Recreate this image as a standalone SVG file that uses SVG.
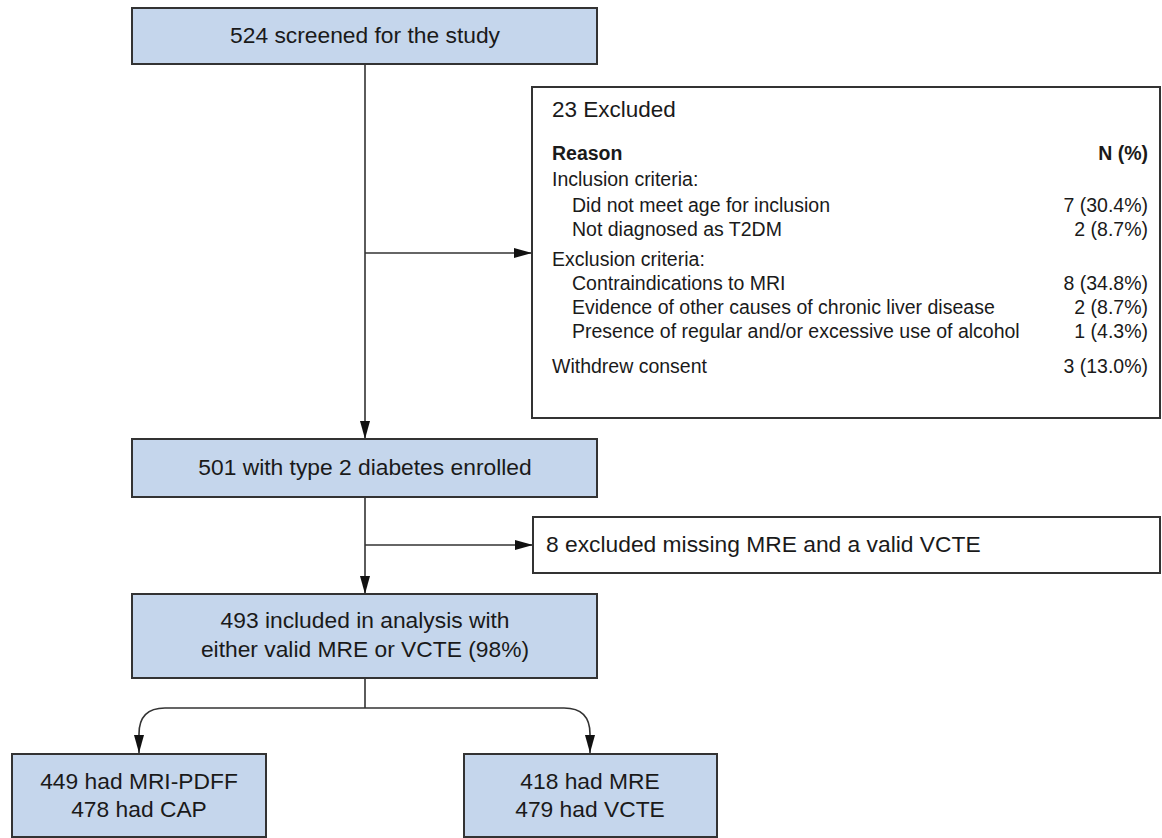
<svg xmlns="http://www.w3.org/2000/svg" width="1162" height="838" viewBox="0 0 1162 838">
<style>
.box{fill:#c5d6ec;stroke:#333;stroke-width:2}
.wbox{fill:#fff;stroke:#333;stroke-width:2}
.t{font-family:"Liberation Sans",Arial,sans-serif;font-size:22.8px;fill:#1a1a1a}
.c{text-anchor:middle}
.s{font-family:"Liberation Sans",Arial,sans-serif;font-size:19.5px;fill:#1a1a1a}
.r{text-anchor:end}
.b{font-weight:bold}
.ln{fill:none;stroke:#333;stroke-width:1.6}
</style>
<defs>
<marker id="ah" viewBox="0 0 18 10" refX="18" refY="5" markerWidth="18" markerHeight="10" markerUnits="userSpaceOnUse" orient="auto">
<path d="M0,0 L18,5 L0,10 Z" fill="#111"/>
</marker>
</defs>
<rect width="1162" height="838" fill="#fff"/>
<g id="connectors">
<line class="ln" x1="365" y1="64" x2="365" y2="439" marker-end="url(#ah)"/>
<line class="ln" x1="365" y1="253" x2="532" y2="253" marker-end="url(#ah)"/>
<line class="ln" x1="365" y1="497" x2="365" y2="594" marker-end="url(#ah)"/>
<line class="ln" x1="365" y1="545" x2="533" y2="545" marker-end="url(#ah)"/>
<line class="ln" x1="365" y1="678" x2="365" y2="708"/>
<path class="ln" d="M365,708 L165,708 Q139,708 139,734 L139,753" marker-end="url(#ah)"/>
<path class="ln" d="M365,708 L564,708 Q590,708 590,734 L590,753" marker-end="url(#ah)"/>
</g>
<g id="screened">
<rect class="box" x="132" y="8" width="465" height="56"/>
<text class="t c" x="365" y="43">524 screened for the study</text>
</g>
<g id="excluded23">
<rect class="wbox" x="532" y="87" width="628" height="331"/>
<text class="s" x="552" y="117" style="font-size:22.5px">23 Excluded</text>
<text class="s b" x="552" y="160">Reason</text>
<text class="s b r" x="1148" y="160">N (%)</text>
<text class="s" x="552" y="186">Inclusion criteria:</text>
<text class="s" x="572" y="212">Did not meet age for inclusion</text>
<text class="s r" x="1148" y="212">7 (30.4%)</text>
<text class="s" x="572" y="236">Not diagnosed as T2DM</text>
<text class="s r" x="1148" y="236">2 (8.7%)</text>
<text class="s" x="552" y="266">Exclusion criteria:</text>
<text class="s" x="572" y="290">Contraindications to MRI</text>
<text class="s r" x="1148" y="290">8 (34.8%)</text>
<text class="s" x="572" y="314">Evidence of other causes of chronic liver disease</text>
<text class="s r" x="1148" y="314">2 (8.7%)</text>
<text class="s" x="572" y="338">Presence of regular and/or excessive use of alcohol</text>
<text class="s r" x="1148" y="338">1 (4.3%)</text>
<text class="s" x="552" y="373">Withdrew consent</text>
<text class="s r" x="1148" y="373">3 (13.0%)</text>
</g>
<g id="enrolled">
<rect class="box" x="132" y="439" width="465" height="58"/>
<text class="t c" x="365" y="475">501 with type 2 diabetes enrolled</text>
</g>
<g id="excluded8">
<rect class="wbox" x="533" y="517" width="627" height="56"/>
<text class="t" x="546" y="552">8 excluded missing MRE and a valid VCTE</text>
</g>
<g id="included">
<rect class="box" x="132" y="594" width="465" height="84"/>
<text class="t c" x="365" y="628">493 included in analysis with</text>
<text class="t c" x="365" y="657">either valid MRE or VCTE (98%)</text>
</g>
<g id="pdff">
<rect class="box" x="12" y="754" width="254" height="83"/>
<text class="t c" x="139" y="789">449 had MRI-PDFF</text>
<text class="t c" x="139" y="817">478 had CAP</text>
</g>
<g id="mre">
<rect class="box" x="464" y="754" width="253" height="83"/>
<text class="t c" x="590" y="789">418 had MRE</text>
<text class="t c" x="590" y="817">479 had VCTE</text>
</g>
</svg>
